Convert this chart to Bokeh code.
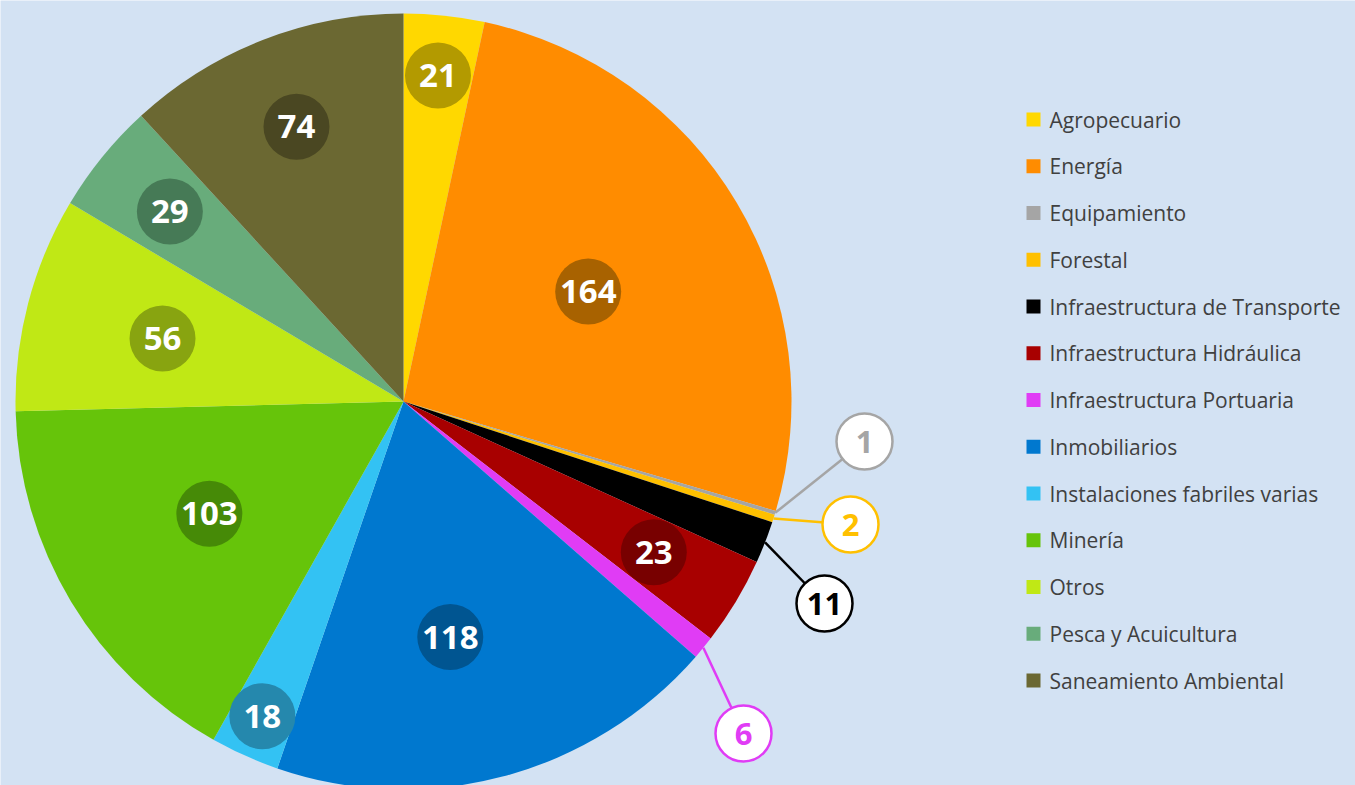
import numpy as np
from bokeh.plotting import figure
from bokeh.models import Range1d, ColumnDataSource
from bokeh.core.properties import value
from bokeh.embed import file_html
from bokeh.resources import INLINE

# ---------------- data ----------------
categories = ["Agropecuario", "Energía", "Equipamiento", "Forestal",
              "Infraestructura de Transporte", "Infraestructura Hidráulica",
              "Infraestructura Portuaria", "Inmobiliarios",
              "Instalaciones fabriles varias", "Minería", "Otros",
              "Pesca y Acuicultura", "Saneamiento Ambiental"]
counts = [21, 164, 1, 2, 11, 23, 6, 118, 18, 103, 56, 29, 74]

# ---------------- styles ----------------
colors = ["#FFD800", "#FF8C00", "#A5A5A5", "#FFC000", "#000000", "#A80000",
          "#E03CF5", "#0078CF", "#33C2F3", "#66C40A", "#C0E815", "#68AC7B",
          "#6B6832"]
label_fill = ["#B39A00", "#A86200", None, None, None, "#780000", None,
              "#005591", "#2588AD", "#468A07", "#88A410", "#467A56", "#4A4722"]
# label distance from centre as fraction of radius (inside labels)
label_frac = [0.845, 0.554, None, None, None, 0.753, None,
              0.619, 0.889, 0.578, 0.642, 0.776, 0.76]
# small angular nudge (radians) for inside labels
label_nudge = [0, 0, 0, 0, 0, 0, 0, -0.065, 0, -0.018, 0, 0, 0]
# callout label positions (screen px) for the small slices
callout_pos = {2: (864, 441), 3: (850, 524), 4: (824, 603), 6: (743, 733)}

W, H = 1355, 785
BG = "#D3E2F3"
CX, CY_S, R = 403, 401, 388
CY = H - CY_S

p = figure(width=W, height=H, output_backend="svg", toolbar_location=None,
           x_range=Range1d(0, W), y_range=Range1d(0, H), min_border=0)
p.axis.visible = False
p.grid.visible = False
p.outline_line_color = None
p.background_fill_color = BG
p.border_fill_color = BG

total = float(sum(counts))
cum = np.concatenate([[0], np.cumsum(counts)])
start = np.pi / 2 - 2 * np.pi * cum[1:] / total
end = np.pi / 2 - 2 * np.pi * cum[:-1] / total
mid = (start + end) / 2

src = ColumnDataSource(dict(start=start, end=end, color=colors))
p.wedge(x=CX, y=CY, radius=R, start_angle="start", end_angle="end",
        fill_color="color", line_color=None, source=src)

# inside labels
lx, ly, lt, lf = [], [], [], []
for i, v in enumerate(counts):
    if label_frac[i] is None:
        continue
    r = label_frac[i] * R
    a = mid[i] + label_nudge[i]
    lx.append(CX + r * np.cos(a))
    ly.append(CY + r * np.sin(a))
    lt.append(str(v))
    lf.append(label_fill[i])
ls = ColumnDataSource(dict(x=lx, y=ly, t=lt, f=lf))
p.circle(x="x", y="y", radius=33, fill_color="f", line_color=None, source=ls)
p.text(x="x", y="y", text="t", text_color="white", text_font=value("Open Sans"),
       text_font_style="bold", text_font_size="33px", text_align="center",
       text_baseline="middle", source=ls)

# callouts
for i, (sx, sy) in callout_pos.items():
    ex = CX + R * np.cos(mid[i])
    ey = CY + R * np.sin(mid[i])
    p.line([ex, sx], [ey, H - sy], line_color=colors[i], line_width=2.5)
    p.circle(x=[sx], y=[H - sy], radius=28, fill_color="white",
             line_color=colors[i], line_width=2.5)
    p.text(x=[sx], y=[H - sy], text=[str(counts[i])], text_color=colors[i],
           text_font=value("Open Sans"), text_font_style="bold",
           text_font_size="31px", text_align="center", text_baseline="middle")

# legend
LEG_X, LEG_TOP, LEG_STEP = 1033, 119, 46.75
gy = [H - (LEG_TOP + k * LEG_STEP) for k in range(len(categories))]
p.scatter(x=[LEG_X] * len(categories), y=gy, marker="square", size=14,
          fill_color=colors, line_color=None)
p.text(x=[LEG_X + 16] * len(categories), y=gy, text=categories,
       text_color="#404040", text_font=value("Open Sans"),
       text_font_size="21px", text_align="left", text_baseline="middle")

open("out.html", "w").write(file_html(p, INLINE))
